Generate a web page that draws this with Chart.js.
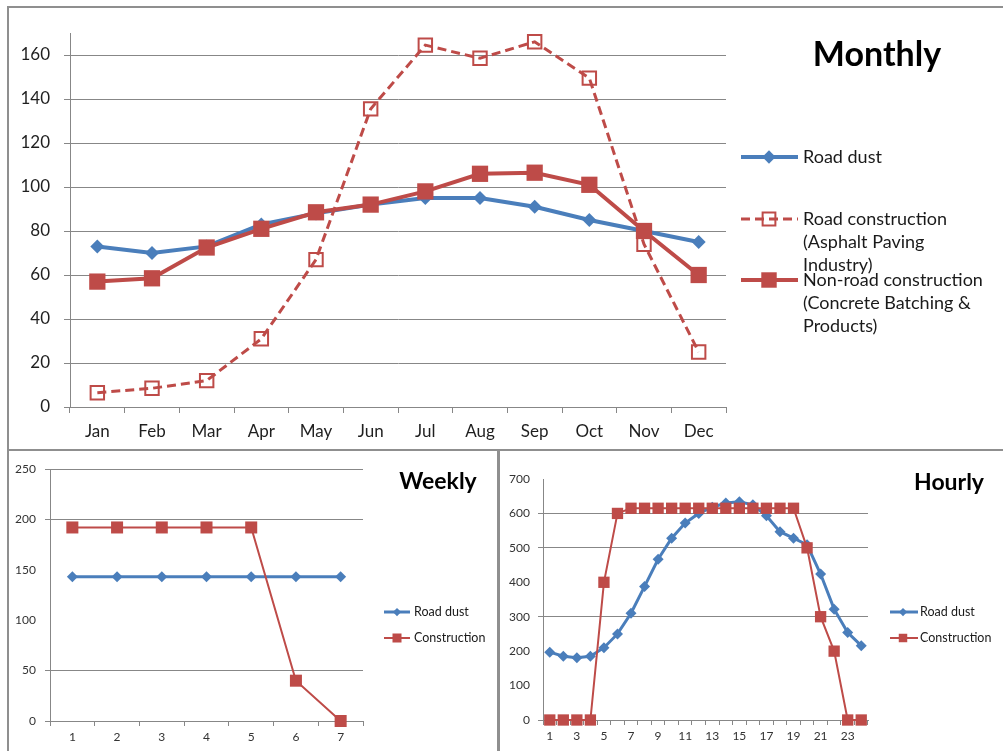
<!DOCTYPE html>
<html>
<head>
<meta charset="utf-8">
<script src="https://cdn.jsdelivr.net/npm/chart.js@4/dist/chart.umd.min.js"></script>
<style>
  html, body { margin: 0; padding: 0; background: #fff; }
  #page { position: relative; width: 1003px; height: 751px; overflow: hidden; }
  canvas { position: absolute; }
  .rule { position: absolute; background: #8f8f8f; }
</style>
</head>
<body>
<div id="page">
  <canvas id="monthly" width="994" height="441" style="left:9px;top:8px"></canvas>
  <canvas id="weekly" width="488" height="300" style="left:9px;top:451px"></canvas>
  <canvas id="hourly" width="503" height="300" style="left:500px;top:451px"></canvas>
  <div class="rule" style="left:7px;top:6px;width:996px;height:2px"></div>
  <div class="rule" style="left:7px;top:6px;width:2px;height:745px"></div>
  <div class="rule" style="left:7px;top:449px;width:996px;height:2px"></div>
  <div class="rule" style="left:497px;top:449px;width:3px;height:302px"></div>
</div>
<script>
// Monthly data
const months = ["Jan", "Feb", "Mar", "Apr", "May", "Jun", "Jul", "Aug", "Sep", "Oct", "Nov", "Dec"];
const monthlyRoadDust = [73, 70, 73, 83, 88, 92, 95, 95, 91, 85, 80, 75];
const monthlyRoadConstruction = [6.5, 8.5, 12, 31, 67, 135.5, 164.5, 158.5, 166, 149.5, 74, 25];
const monthlyNonRoad = [57, 58.5, 72.5, 81, 88.5, 92, 98, 106, 106.5, 101, 80, 60];

// Weekly data
const weekDays = ["1", "2", "3", "4", "5", "6", "7"];
const weeklyRoadDust = [143, 143, 143, 143, 143, 143, 143];
const weeklyConstruction = [192, 192, 192, 192, 192, 40, 0];

// Hourly data
const hours = ["1", "2", "3", "4", "5", "6", "7", "8", "9", "10", "11", "12",
               "13", "14", "15", "16", "17", "18", "19", "20", "21", "22", "23", "24"];
const hourlyRoadDust = [197, 185, 181, 185, 210, 250, 310, 388, 467, 528, 572, 600,
                        618, 630, 634, 625, 593, 547, 528, 509, 424, 322, 254, 216];
const hourlyConstruction = [0, 0, 0, 0, 400, 600, 615, 615, 615, 615, 615, 615,
                            615, 615, 615, 615, 615, 615, 615, 500, 300, 200, 0, 0];

const BLUE = "#4A7EBB";
const RED = "#BE4B48";
const GRID = "#878787";
const FONT = "Lato, 'Open Sans', sans-serif";

// marker for the hand-drawn legends
function drawMarker(ctx, style, r, x, y, fill, stroke, bw) {
  ctx.save();
  ctx.setLineDash([]);
  ctx.beginPath();
  if (style === "rectRot") {
    ctx.moveTo(x, y - r); ctx.lineTo(x + r, y); ctx.lineTo(x, y + r); ctx.lineTo(x - r, y);
    ctx.closePath();
  } else {
    const s = r * Math.SQRT1_2;
    ctx.rect(x - s, y - s, 2 * s, 2 * s);
  }
  ctx.fillStyle = fill;
  ctx.fill();
  if (bw > 0) { ctx.lineWidth = bw; ctx.strokeStyle = stroke; ctx.stroke(); }
  ctx.restore();
}

// title + legend drawn next to the plot
function decor(cfg) {
  return {
    id: "decor",
    afterDraw(chart) {
      const ctx = chart.ctx;
      ctx.save();
      ctx.fillStyle = "#000";
      ctx.font = cfg.titleFont;
      ctx.textAlign = "center";
      ctx.textBaseline = "middle";
      ctx.fillText(cfg.title, cfg.tx, cfg.ty);

      cfg.items.forEach(it => {
        const ds = chart.data.datasets[it.ds];
        ctx.save();
        ctx.strokeStyle = ds.borderColor;
        ctx.lineWidth = ds.borderWidth;
        ctx.setLineDash(ds.borderDash || []);
        ctx.beginPath();
        ctx.moveTo(cfg.x0, it.y);
        ctx.lineTo(cfg.x1, it.y);
        ctx.stroke();
        ctx.restore();
        drawMarker(ctx, ds.pointStyle, ds.pointRadius * cfg.markScale, cfg.mx, it.y,
                   ds.pointBackgroundColor, ds.pointBorderColor, ds.pointBorderWidth);
        ctx.fillStyle = "#1a1a1a";
        ctx.font = cfg.legendFont;
        ctx.textAlign = "left";
        it.lines.forEach((t, k) => ctx.fillText(t, cfg.textX, it.y + k * cfg.lineGap));
      });
      ctx.restore();
    }
  };
}

function hideGrid(list) {
  return c => (c.tick && list.includes(c.tick.value)) ? "rgba(0,0,0,0)" : GRID;
}

// ======== Monthly ======== //
new Chart(document.getElementById("monthly"), {
  type: "line",
  data: {
    labels: months,
    datasets: [{
      label: "Road dust",
      data: monthlyRoadDust,
      borderColor: BLUE, borderWidth: 4,
      pointStyle: "rectRot", pointRadius: 7,
      pointBackgroundColor: BLUE, pointBorderColor: BLUE, pointBorderWidth: 0,
      order: 2, clip: false
    }, {
      label: "Road construction (Asphalt Paving Industry)",
      data: monthlyRoadConstruction,
      borderColor: RED, borderWidth: 3, borderDash: [9, 5],
      pointStyle: "rect", pointRadius: 9.5,
      pointBackgroundColor: "rgba(255,255,255,0)", pointBorderColor: RED, pointBorderWidth: 2,
      order: 1, clip: false
    }, {
      label: "Non-road construction (Concrete Batching & Products)",
      data: monthlyNonRoad,
      borderColor: RED, borderWidth: 4,
      pointStyle: "rect", pointRadius: 11.5,
      pointBackgroundColor: RED, pointBorderColor: RED, pointBorderWidth: 0,
      order: 0, clip: false
    }]
  },
  options: {
    responsive: false,
    animation: false,
    devicePixelRatio: 1,
    layout: { padding: { top: 25, right: 277, bottom: 0, left: 0 } },
    plugins: { legend: { display: false }, tooltip: { enabled: false } },
    elements: { line: { tension: 0 } },
    scales: {
      x: {
        offset: true,
        grid: { offset: true, drawOnChartArea: false, tickLength: 6, color: GRID },
        border: { color: GRID },
        ticks: { color: "#1f1f1f", font: { family: FONT, size: 17 }, padding: 8, maxRotation: 0 },
        afterFit: s => { s.height = 42; }
      },
      y: {
        min: 0, max: 170,
        grid: { color: GRID, tickLength: 6 },
        border: { color: GRID },
        ticks: { stepSize: 20, color: "#1f1f1f", font: { family: FONT, size: 17 }, padding: 14 },
        afterBuildTicks: s => { s.ticks = s.ticks.filter(t => t.value <= 160); },
        afterFit: s => { s.width = 61; }
      }
    }
  },
  plugins: [decor({
    title: "Monthly", titleFont: "bold 34px " + FONT, tx: 868, ty: 47,
    x0: 732, x1: 789, mx: 760, textX: 794, markScale: 0.95,
    legendFont: "18px " + FONT, lineGap: 23,
    items: [
      { ds: 0, y: 149, lines: ["Road dust"] },
      { ds: 1, y: 211, lines: ["Road construction", "(Asphalt Paving", "Industry)"] },
      { ds: 2, y: 272, lines: ["Non-road construction", "(Concrete Batching &", "Products)"] }
    ]
  })]
});

// ======== Weekly ======== //
new Chart(document.getElementById("weekly"), {
  type: "line",
  data: {
    labels: weekDays,
    datasets: [{
      label: "Road dust",
      data: weeklyRoadDust,
      borderColor: BLUE, borderWidth: 3,
      pointStyle: "rectRot", pointRadius: 5.5,
      pointBackgroundColor: BLUE, pointBorderColor: BLUE, pointBorderWidth: 0,
      order: 1, clip: false
    }, {
      label: "Construction",
      data: weeklyConstruction,
      borderColor: RED, borderWidth: 2,
      pointStyle: "rect", pointRadius: 8.5,
      pointBackgroundColor: RED, pointBorderColor: RED, pointBorderWidth: 0,
      order: 0, clip: false
    }]
  },
  options: {
    responsive: false,
    animation: false,
    devicePixelRatio: 1,
    layout: { padding: { top: 18, right: 134, bottom: 0, left: 0 } },
    plugins: { legend: { display: false }, tooltip: { enabled: false } },
    elements: { line: { tension: 0 } },
    scales: {
      x: {
        offset: true,
        grid: { offset: true, drawOnChartArea: false, tickLength: 5, color: GRID },
        border: { color: GRID },
        ticks: { color: "#333", font: { family: FONT, size: 12 }, padding: 4, maxRotation: 0 },
        afterFit: s => { s.height = 30; }
      },
      y: {
        min: 0, max: 250,
        grid: { color: hideGrid([100, 150]), tickLength: 5 },
        border: { color: GRID },
        ticks: { stepSize: 50, color: "#333", font: { family: FONT, size: 12 }, padding: 9 },
        afterFit: s => { s.width = 41; }
      }
    }
  },
  plugins: [decor({
    title: "Weekly", titleFont: "bold 23px " + FONT, tx: 429, ty: 31,
    x0: 375, x1: 401, mx: 388, textX: 405, markScale: 0.75,
    legendFont: "12.5px " + FONT, lineGap: 14,
    items: [
      { ds: 0, y: 161, lines: ["Road dust"] },
      { ds: 1, y: 187, lines: ["Construction"] }
    ]
  })]
});

// ======== Hourly ======== //
new Chart(document.getElementById("hourly"), {
  type: "line",
  data: {
    labels: hours,
    datasets: [{
      label: "Road dust",
      data: hourlyRoadDust,
      borderColor: BLUE, borderWidth: 3,
      pointStyle: "rectRot", pointRadius: 5.5,
      pointBackgroundColor: BLUE, pointBorderColor: BLUE, pointBorderWidth: 0,
      order: 1, clip: false
    }, {
      label: "Construction",
      data: hourlyConstruction,
      borderColor: RED, borderWidth: 2,
      pointStyle: "rect", pointRadius: 8,
      pointBackgroundColor: RED, pointBorderColor: RED, pointBorderWidth: 0,
      order: 0, clip: false
    }]
  },
  options: {
    responsive: false,
    animation: false,
    devicePixelRatio: 1,
    layout: { padding: { top: 28, right: 135, bottom: 0, left: 0 } },
    plugins: { legend: { display: false }, tooltip: { enabled: false } },
    elements: { line: { tension: 0 } },
    scales: {
      x: {
        offset: true,
        grid: { offset: true, drawOnChartArea: false, tickLength: 5, color: GRID },
        border: { color: GRID },
        ticks: {
          color: "#333", font: { family: FONT, size: 12 }, padding: 4,
          maxRotation: 0, autoSkip: false,
          callback: (v, i) => i % 2 === 0 ? hours[i] : ""
        },
        afterFit: s => { s.height = 31; }
      },
      y: {
        min: 0, max: 700,
        grid: { color: hideGrid([100, 200, 400, 700]), tickLength: 5 },
        border: { color: GRID },
        ticks: { stepSize: 100, color: "#333", font: { family: FONT, size: 12 }, padding: 8 },
        afterFit: s => { s.width = 43; }
      }
    }
  },
  plugins: [decor({
    title: "Hourly", titleFont: "bold 23px " + FONT, tx: 449, ty: 32,
    x0: 390, x1: 418, mx: 403, textX: 420, markScale: 0.75,
    legendFont: "12.5px " + FONT, lineGap: 14,
    items: [
      { ds: 0, y: 161, lines: ["Road dust"] },
      { ds: 1, y: 187, lines: ["Construction"] }
    ]
  })]
});
</script>
</body>
</html>
